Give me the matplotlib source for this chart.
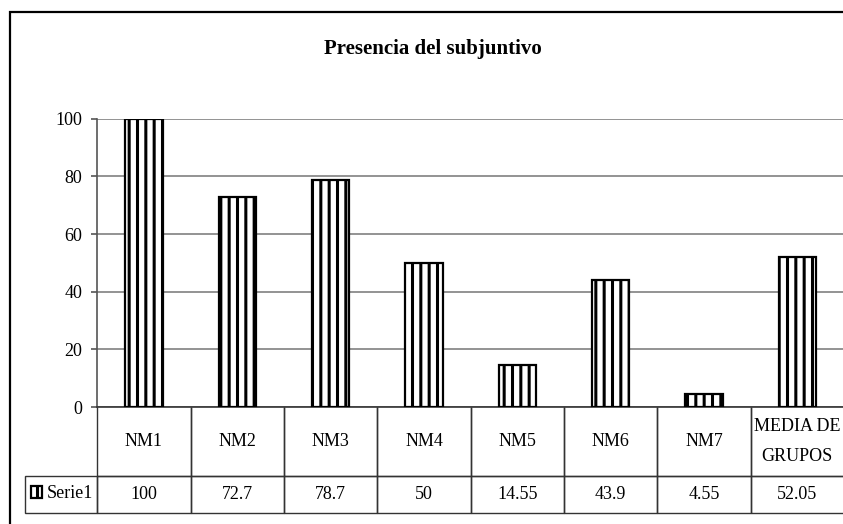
#!/usr/bin/env python3
# -*- coding: utf-8 -*-

import matplotlib
matplotlib.use('Agg')
import matplotlib.pyplot as plt
from matplotlib.patches import Rectangle
from matplotlib.table import Table

# data
categories = ['NM1', 'NM2', 'NM3', 'NM4', 'NM5', 'NM6', 'NM7', 'MEDIA DE\nGRUPOS']
values     = [100, 72.7, 78.7, 50, 14.55, 43.9, 4.55, 52.05]
series     = 'Serie1'
title      = 'Presencia del subjuntivo'
yticks     = [0, 20, 40, 60, 80, 100]

plt.rcParams['font.family'] = ['Liberation Serif', 'DejaVu Serif']
plt.rcParams['hatch.linewidth'] = 2.2

W, H = 843, 524
fig = plt.figure(figsize=(W / 100, H / 100), dpi=100)


def px(x, y):
    return x / W, 1 - y / H


# plot area, pixel bounds of the axes
left, right, top, bottom = 97.3, 844.0, 118.7, 407.0
ax = fig.add_axes([left / W, 1 - bottom / H, (right - left) / W, (bottom - top) / H])

# outer chart frame (runs off the picture on the right and bottom)
x0, y0 = px(10, 12)
fig.patches.append(Rectangle((x0, -0.2), 1.2, y0 + 0.2, transform=fig.transFigure,
                             fill=False, edgecolor='black', linewidth=1.6))

xs = range(len(categories))
bars = ax.bar(xs, values, width=0.4, color='white', edgecolor='black',
              hatch='||', linewidth=1.6, zorder=3)

ax.set_xlim(-0.5, len(categories) - 0.5)
ax.set_ylim(0, 100)
ax.set_yticks(yticks)
ax.set_xticks([])
ax.tick_params(axis='y', length=4, width=1.2, color='#555555', pad=7, labelsize=13)
ax.yaxis.grid(True, color='#808080', linewidth=1.2, zorder=0)
ax.set_axisbelow(True)
for side in ('top', 'right'):
    ax.spines[side].set_visible(False)
ax.spines['left'].set_color('#555555')
ax.spines['left'].set_linewidth(1.2)
ax.spines['bottom'].set_color('#333333')
ax.spines['bottom'].set_linewidth(1.2)

fig.text(432.7 / W, 1 - 49 / H, title, ha='center', va='center',
         fontsize=15, fontweight='bold')

# data table under the axis
ah = bottom - top
aw = right - left
h1 = (475.7 - bottom) / ah
h2 = (513.3 - 475.7) / ah
lw = (left - 25) / aw
cw = 1 / len(categories)

# bbox covers only the data columns; the row label column hangs to the left
tab = Table(ax, bbox=[0, -(h1 + h2), 1, h1 + h2])
for j, (cat, val) in enumerate(zip(categories, values)):
    c = tab.add_cell(0, j, width=cw, height=h1, text=cat, loc='center',
                     edgecolor='#333333', facecolor='none')
    c.visible_edges = 'BLR'
    c.get_text().set_linespacing(1.95)
    tab.add_cell(1, j, width=cw, height=h2, text='{:g}'.format(val), loc='center',
                 edgecolor='#333333', facecolor='none')
tab.add_cell(1, -1, width=lw, height=h2, text='', loc='left',
             edgecolor='#333333', facecolor='none')
tab.auto_set_font_size(False)
tab.set_fontsize(13)
for cell in tab.get_celld().values():
    cell.set_linewidth(1.0)
ax.add_table(tab)

ax.legend([bars.patches[0]], [series], loc='center left',
          bbox_to_anchor=((31 - left) / aw, -(494 - bottom) / ah),
          frameon=False, fontsize=13, borderpad=0, borderaxespad=0,
          handlelength=0.6, handleheight=0.6, handletextpad=0.3)

plt.savefig('out.png', dpi=100)
plt.close()
